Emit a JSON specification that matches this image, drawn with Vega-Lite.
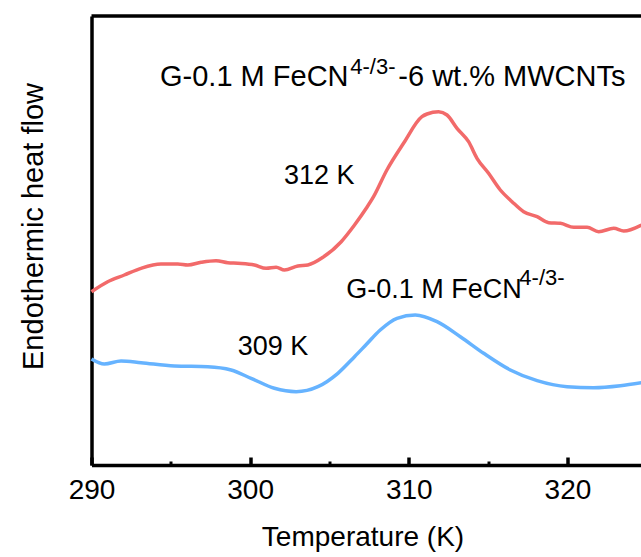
{
  "$schema": "https://vega.github.io/schema/vega-lite/v6.json",
  "width": 550,
  "height": 449,
  "autosize": {"type": "none"},
  "padding": {"left": 91.5, "top": 16, "right": 0, "bottom": 92},
  "background": "white",
  "config": {
    "view": {"stroke": null},
    "font": "Liberation Sans",
    "axis": {"grid": false, "titleFontWeight": "normal", "titleColor": "black", "labelColor": "black"}
  },
  "datasets": {
    "dsc": [
      {"sample": "G-0.1 M FeCN-6 wt.% MWCNTs", "T": 290.0, "v": 173.3},
      {"sample": "G-0.1 M FeCN-6 wt.% MWCNTs", "T": 291.02, "v": 183.3},
      {"sample": "G-0.1 M FeCN-6 wt.% MWCNTs", "T": 292.07, "v": 190.0},
      {"sample": "G-0.1 M FeCN-6 wt.% MWCNTs", "T": 293.12, "v": 196.7},
      {"sample": "G-0.1 M FeCN-6 wt.% MWCNTs", "T": 294.38, "v": 201.0},
      {"sample": "G-0.1 M FeCN-6 wt.% MWCNTs", "T": 295.44, "v": 201.0},
      {"sample": "G-0.1 M FeCN-6 wt.% MWCNTs", "T": 296.07, "v": 200.0},
      {"sample": "G-0.1 M FeCN-6 wt.% MWCNTs", "T": 296.91, "v": 202.7},
      {"sample": "G-0.1 M FeCN-6 wt.% MWCNTs", "T": 297.85, "v": 204.3},
      {"sample": "G-0.1 M FeCN-6 wt.% MWCNTs", "T": 298.59, "v": 202.3},
      {"sample": "G-0.1 M FeCN-6 wt.% MWCNTs", "T": 299.22, "v": 201.7},
      {"sample": "G-0.1 M FeCN-6 wt.% MWCNTs", "T": 300.27, "v": 200.0},
      {"sample": "G-0.1 M FeCN-6 wt.% MWCNTs", "T": 301.01, "v": 196.7},
      {"sample": "G-0.1 M FeCN-6 wt.% MWCNTs", "T": 301.64, "v": 197.7},
      {"sample": "G-0.1 M FeCN-6 wt.% MWCNTs", "T": 302.16, "v": 195.0},
      {"sample": "G-0.1 M FeCN-6 wt.% MWCNTs", "T": 303.01, "v": 199.0},
      {"sample": "G-0.1 M FeCN-6 wt.% MWCNTs", "T": 303.64, "v": 200.0},
      {"sample": "G-0.1 M FeCN-6 wt.% MWCNTs", "T": 304.59, "v": 207.7},
      {"sample": "G-0.1 M FeCN-6 wt.% MWCNTs", "T": 305.74, "v": 223.3},
      {"sample": "G-0.1 M FeCN-6 wt.% MWCNTs", "T": 306.58, "v": 240.0},
      {"sample": "G-0.1 M FeCN-6 wt.% MWCNTs", "T": 307.32, "v": 256.7},
      {"sample": "G-0.1 M FeCN-6 wt.% MWCNTs", "T": 307.78, "v": 268.3},
      {"sample": "G-0.1 M FeCN-6 wt.% MWCNTs", "T": 308.62, "v": 295.0},
      {"sample": "G-0.1 M FeCN-6 wt.% MWCNTs", "T": 309.67, "v": 321.7},
      {"sample": "G-0.1 M FeCN-6 wt.% MWCNTs", "T": 310.83, "v": 348.3},
      {"sample": "G-0.1 M FeCN-6 wt.% MWCNTs", "T": 311.15, "v": 351.0},
      {"sample": "G-0.1 M FeCN-6 wt.% MWCNTs", "T": 311.88, "v": 353.3},
      {"sample": "G-0.1 M FeCN-6 wt.% MWCNTs", "T": 312.41, "v": 350.0},
      {"sample": "G-0.1 M FeCN-6 wt.% MWCNTs", "T": 313.04, "v": 336.7},
      {"sample": "G-0.1 M FeCN-6 wt.% MWCNTs", "T": 313.77, "v": 323.3},
      {"sample": "G-0.1 M FeCN-6 wt.% MWCNTs", "T": 314.3, "v": 306.7},
      {"sample": "G-0.1 M FeCN-6 wt.% MWCNTs", "T": 315.03, "v": 291.7},
      {"sample": "G-0.1 M FeCN-6 wt.% MWCNTs", "T": 315.77, "v": 275.0},
      {"sample": "G-0.1 M FeCN-6 wt.% MWCNTs", "T": 316.51, "v": 263.3},
      {"sample": "G-0.1 M FeCN-6 wt.% MWCNTs", "T": 317.24, "v": 253.3},
      {"sample": "G-0.1 M FeCN-6 wt.% MWCNTs", "T": 318.09, "v": 248.3},
      {"sample": "G-0.1 M FeCN-6 wt.% MWCNTs", "T": 318.82, "v": 242.3},
      {"sample": "G-0.1 M FeCN-6 wt.% MWCNTs", "T": 319.56, "v": 241.7},
      {"sample": "G-0.1 M FeCN-6 wt.% MWCNTs", "T": 320.4, "v": 237.7},
      {"sample": "G-0.1 M FeCN-6 wt.% MWCNTs", "T": 321.24, "v": 237.7},
      {"sample": "G-0.1 M FeCN-6 wt.% MWCNTs", "T": 321.97, "v": 233.3},
      {"sample": "G-0.1 M FeCN-6 wt.% MWCNTs", "T": 322.92, "v": 236.7},
      {"sample": "G-0.1 M FeCN-6 wt.% MWCNTs", "T": 323.55, "v": 234.0},
      {"sample": "G-0.1 M FeCN-6 wt.% MWCNTs", "T": 324.67, "v": 240.0},
      {"sample": "G-0.1 M FeCN", "T": 290.0, "v": 106.0},
      {"sample": "G-0.1 M FeCN", "T": 290.81, "v": 101.0},
      {"sample": "G-0.1 M FeCN", "T": 291.86, "v": 104.0},
      {"sample": "G-0.1 M FeCN", "T": 293.12, "v": 102.3},
      {"sample": "G-0.1 M FeCN", "T": 295.22, "v": 99.0},
      {"sample": "G-0.1 M FeCN", "T": 297.33, "v": 98.3},
      {"sample": "G-0.1 M FeCN", "T": 298.8, "v": 95.0},
      {"sample": "G-0.1 M FeCN", "T": 300.06, "v": 86.7},
      {"sample": "G-0.1 M FeCN", "T": 301.53, "v": 76.7},
      {"sample": "G-0.1 M FeCN", "T": 302.9, "v": 73.3},
      {"sample": "G-0.1 M FeCN", "T": 304.27, "v": 78.3},
      {"sample": "G-0.1 M FeCN", "T": 305.53, "v": 91.7},
      {"sample": "G-0.1 M FeCN", "T": 306.58, "v": 108.3},
      {"sample": "G-0.1 M FeCN", "T": 307.32, "v": 120.5},
      {"sample": "G-0.1 M FeCN", "T": 308.2, "v": 135.0},
      {"sample": "G-0.1 M FeCN", "T": 309.26, "v": 146.7},
      {"sample": "G-0.1 M FeCN", "T": 310.41, "v": 150.0},
      {"sample": "G-0.1 M FeCN", "T": 311.78, "v": 143.3},
      {"sample": "G-0.1 M FeCN", "T": 313.25, "v": 128.3},
      {"sample": "G-0.1 M FeCN", "T": 314.72, "v": 111.7},
      {"sample": "G-0.1 M FeCN", "T": 316.4, "v": 95.0},
      {"sample": "G-0.1 M FeCN", "T": 318.09, "v": 84.3},
      {"sample": "G-0.1 M FeCN", "T": 319.98, "v": 78.3},
      {"sample": "G-0.1 M FeCN", "T": 321.66, "v": 77.3},
      {"sample": "G-0.1 M FeCN", "T": 323.34, "v": 79.3},
      {"sample": "G-0.1 M FeCN", "T": 324.67, "v": 82.3}
    ],
    "headline": [
      {"text": "G-0.1 M FeCN", "T": 294.32, "v": 379},
      {"text": "-6 wt.% MWCNTs", "T": 309.34, "v": 379}
    ],
    "labels": [
      {"text": "312 K", "T": 302.13, "v": 281.5},
      {"text": "G-0.1 M FeCN", "T": 306.06, "v": 166.7},
      {"text": "309 K", "T": 299.22, "v": 110}
    ],
    "superscripts": [
      {"text": "4-/3-", "T": 306.31, "v": 391},
      {"text": "4-/3-", "T": 316.97, "v": 180}
    ]
  },
  "layer": [
    {
      "data": {"name": "dsc"},
      "mark": {"type": "line", "strokeWidth": 3.5, "interpolate": "monotone"},
      "encoding": {
        "x": {
          "field": "T", "type": "quantitative",
          "scale": {"domain": [290, 324.67], "nice": false, "zero": false},
          "axis": {
            "values": [290, 300, 310, 320],
            "domainColor": "black", "domainWidth": 3.5,
            "ticks": true, "tickSize": -8, "tickWidth": 3.5, "tickColor": "black",
            "labelFontSize": 28, "labelBaseline": "alphabetic", "labelPadding": 41, "labelFlush": false,
            "title": "Temperature (K)", "titleFontSize": 28,
            "titleX": 271, "titleY": 80, "titleBaseline": "alphabetic", "titleAnchor": null
          }
        },
        "y": {
          "field": "v", "type": "quantitative",
          "scale": {"domain": [0, 449], "nice": false, "zero": false},
          "axis": {
            "domainColor": "black", "domainWidth": 3.5,
            "ticks": false, "labels": false,
            "title": "Endothermic heat flow", "titleFontSize": 29,
            "titleX": -49, "titleY": 210, "titleBaseline": "alphabetic", "titleAngle": -90
          }
        },
        "color": {
          "field": "sample", "type": "nominal",
          "scale": {"domain": ["G-0.1 M FeCN-6 wt.% MWCNTs", "G-0.1 M FeCN"], "range": ["#F26A6A", "#66B3FF"]},
          "legend": null
        }
      }
    },
    {
      "data": {"values": [{}]},
      "mark": {"type": "rule", "color": "black", "strokeWidth": 3.5},
      "encoding": {
        "x": {
          "datum": 290, "type": "quantitative",
          "axis": {
            "orient": "bottom", "values": [295, 305, 315],
            "domain": false, "labels": false, "title": null,
            "ticks": true, "tickSize": -4, "tickWidth": 3, "tickColor": "black"
          }
        },
        "x2": {"datum": 324.67},
        "y": {"datum": 449, "type": "quantitative", "axis": null}
      }
    },
    {
      "data": {"name": "headline"},
      "mark": {"type": "text", "align": "left", "baseline": "alphabetic", "fontSize": 29, "color": "black"},
      "encoding": {
        "x": {"field": "T", "type": "quantitative", "axis": null},
        "y": {"field": "v", "type": "quantitative", "axis": null},
        "text": {"field": "text"}
      }
    },
    {
      "data": {"name": "labels"},
      "mark": {"type": "text", "align": "left", "baseline": "alphabetic", "fontSize": 27, "color": "black"},
      "encoding": {
        "x": {"field": "T", "type": "quantitative", "axis": null},
        "y": {"field": "v", "type": "quantitative", "axis": null},
        "text": {"field": "text"}
      }
    },
    {
      "data": {"name": "superscripts"},
      "mark": {"type": "text", "align": "left", "baseline": "alphabetic", "fontSize": 22, "color": "black"},
      "encoding": {
        "x": {"field": "T", "type": "quantitative", "axis": null},
        "y": {"field": "v", "type": "quantitative", "axis": null},
        "text": {"field": "text"}
      }
    }
  ],
  "resolve": {"axis": {"x": "independent", "y": "independent"}}
}
